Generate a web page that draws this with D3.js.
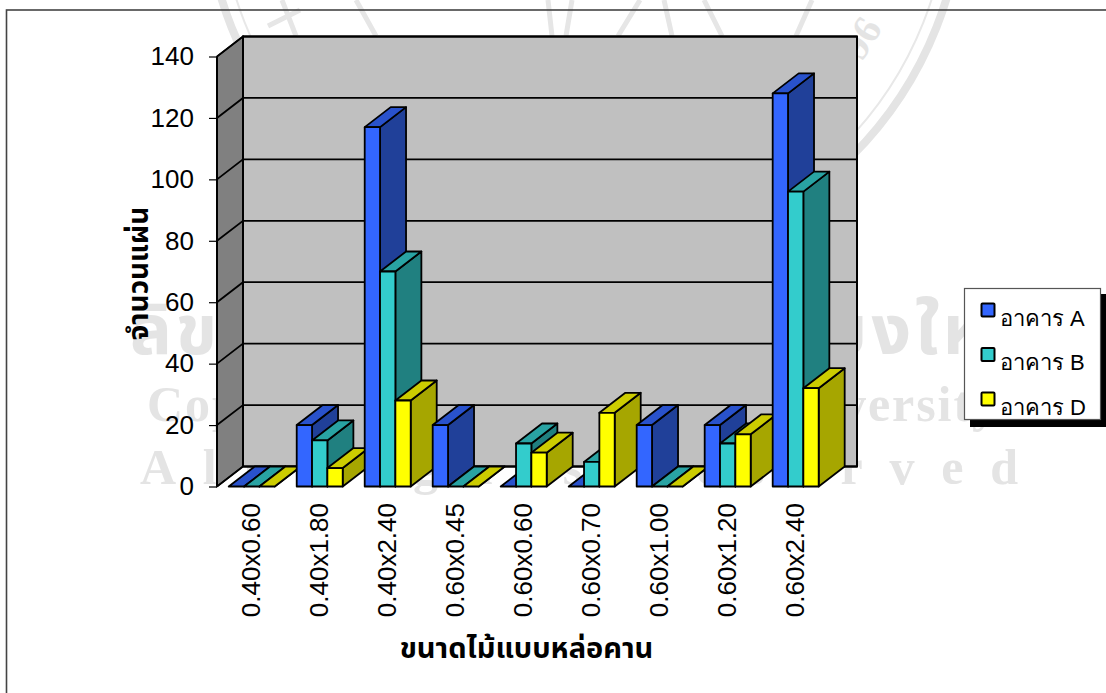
<!DOCTYPE html>
<html>
<head>
<meta charset="utf-8">
<script src="https://cdn.jsdelivr.net/npm/d3@7"></script>
<style>
  html, body { margin: 0; padding: 0; background: #fff; }
  svg { display: block; }
  text { font-family: "Liberation Sans", Arial, sans-serif; fill: #000; }
  .thai { font-family: "Liberation Serif", "Noto Sans Thai", "DejaVu Serif", serif; font-weight: bold; }
  .mark { font-family: "Liberation Serif", "Noto Sans Thai", serif; font-weight: bold; fill: #e4e4e4; }
</style>
</head>
<body>
<svg width="1106" height="693"></svg>
<script>
// ค่าที่อ่านจากกราฟ
const categories = ["0.40x0.60", "0.40x1.80", "0.40x2.40", "0.60x0.45", "0.60x0.60", "0.60x0.70", "0.60x1.00", "0.60x1.20", "0.60x2.40"];
const seriesNames = ["อาคาร A", "อาคาร B", "อาคาร D"];
const buildingA = [0, 20, 117, 20, 0, 0, 20, 20, 128];
const buildingB = [0, 15, 70, 0, 14, 8, 0, 14, 96];
const buildingD = [0, 6, 28, 0, 11, 24, 0, 17, 32];
const yTicks = [0, 20, 40, 60, 80, 100, 120, 140];
const frontColors = ["#3366ff", "#33cccc", "#ffff00"];
const sideColors = ["#204099", "#208080", "#a6a600"];
const topColors = ["#2952cc", "#29a3a3", "#cccc00"];

const svg = d3.select("svg");
const allSeries = [buildingA, buildingB, buildingD];

// глубина 3D
const depthX = 26;
const depthY = -20;

const x = d3.scaleBand().domain(categories).range([217.7, 829.7]).paddingInner(0.3235).paddingOuter(0.162);
const xInner = d3.scaleBand().domain(d3.range(3)).range([0, x.bandwidth()]);
const y = d3.scaleLinear().domain([0, 140]).range([486.5, 56.5]);

const poly = pts => pts.map(p => p.join(",")).join(" ");

// водяной знак за графиком
const wm = svg.append("g");
const ringX = 584, ringY = -112;
wm.append("circle").attr("cx", ringX).attr("cy", ringY).attr("r", 379)
    .attr("fill", "none").attr("stroke", "#e4e4e4").attr("stroke-width", 8);
wm.append("circle").attr("cx", ringX).attr("cy", ringY).attr("r", 365)
    .attr("fill", "none").attr("stroke", "#e8e8e8").attr("stroke-width", 2);
// штрихи герба у верхнего края
wm.append("path")
    .attr("d", "M282 0L296 36M300 10L268 26M356 0L376 36M548 0L552 36M572 0L566 36M640 0L618 36M664 0L672 36M704 0L722 36M812 0L796 36")
    .attr("fill", "none").attr("stroke", "#e6e6e6").attr("stroke-width", 5);
wm.append("text").attr("class", "mark")
    .attr("transform", "translate(862,62) rotate(-58)")
    .attr("font-size", 40).attr("font-weight", "normal")
    .text("96");
wm.append("text").attr("class", "mark").attr("x", 130).attr("y", 354)
    .attr("font-size", 70).attr("textLength", 905).attr("lengthAdjust", "spacing")
    .text("ลิขสิทธิ์มหาวิทยาลัยเชียงใหม่");
wm.append("text").attr("class", "mark").attr("x", 147).attr("y", 421)
    .attr("font-size", 50).attr("textLength", 850)
    .text("Copyright by Chiang Mai University");
wm.append("text").attr("class", "mark").attr("x", 140).attr("y", 484)
    .attr("font-size", 50).attr("textLength", 878)
    .text("All rights reserved");

// рамка
svg.append("rect").attr("x", 6.5).attr("y", 10).attr("width", 1200).attr("height", 800)
    .attr("fill", "none").attr("stroke", "#444").attr("stroke-width", 1.6);

// стенки
const plot = svg.append("g");
const left = 217, right = 831;
plot.append("polygon")
    .attr("points", poly([[left, y(140)], [left + depthX, y(140) + depthY], [left + depthX, y(0) + depthY], [left, y(0)]]))
    .attr("fill", "#808080").attr("stroke", "#000").attr("stroke-width", 1.5);
plot.append("rect")
    .attr("x", left + depthX).attr("y", y(140) + depthY)
    .attr("width", right - left).attr("height", y(0) - y(140))
    .attr("fill", "#c0c0c0").attr("stroke", "#000").attr("stroke-width", 2);

// линии сетки
yTicks.forEach(t => {
    plot.append("polyline")
        .attr("points", poly([[left, y(t)], [left + depthX, y(t) + depthY], [right + depthX, y(t) + depthY]]))
        .attr("fill", "none").attr("stroke", "#000").attr("stroke-width", 1.8);
});

// ось Y
const yAxis = d3.axisLeft(y).tickValues(yTicks).tickSize(8).tickPadding(15);
const yG = svg.append("g").attr("transform", `translate(${left},0)`).call(yAxis);
yG.select(".domain").remove();
yG.selectAll("line").attr("stroke", "#000").attr("stroke-width", 1.2);
yG.selectAll("text").attr("font-size", 26).attr("font-family", "Liberation Sans");
svg.append("line").attr("x1", left).attr("x2", left).attr("y1", y(140)).attr("y2", y(0))
    .attr("stroke", "#000").attr("stroke-width", 2);

// столбцы слева направо, внутри группы от первой серии к последней
const bars = svg.append("g").attr("stroke", "#000").attr("stroke-width", 1.8).attr("stroke-linejoin", "round");
categories.forEach((c, i) => {
    allSeries.forEach((s, k) => {
        const x0 = x(c) + xInner(k);
        const x1 = x0 + xInner.bandwidth();
        const yTop = y(s[i]);
        const yBase = y(0);
        bars.append("polygon")
            .attr("points", poly([[x1, yTop], [x1 + depthX, yTop + depthY], [x1 + depthX, yBase + depthY], [x1, yBase]]))
            .attr("fill", sideColors[k]);
        bars.append("polygon")
            .attr("points", poly([[x0, yTop], [x0 + depthX, yTop + depthY], [x1 + depthX, yTop + depthY], [x1, yTop]]))
            .attr("fill", topColors[k]);
        if (s[i] > 0) {
            bars.append("rect")
                .attr("x", x0).attr("y", yTop)
                .attr("width", x1 - x0).attr("height", yBase - yTop)
                .attr("fill", frontColors[k]);
        }
    });
});

// подписи категорий
svg.append("g").selectAll("text").data(categories).join("text")
    .attr("transform", d => `translate(${x(d) + x.bandwidth() / 2 - 1},503) rotate(-90)`)
    .attr("text-anchor", "end")
    .attr("dy", "0.36em")
    .attr("font-size", 26)
    .text(d => d);

// заголовки осей
svg.append("text").attr("class", "thai")
    .attr("x", 526.5).attr("y", 658).attr("text-anchor", "middle")
    .attr("font-size", 29)
    .text("ขนาดไม้แบบหล่อคาน");
svg.append("text").attr("class", "thai")
    .attr("transform", "translate(148,273.5) rotate(-90)").attr("text-anchor", "middle")
    .attr("font-size", 28)
    .text("จำนวนแผ่น");

// легенда
const legend = svg.append("g");
legend.append("rect").attr("x", 970).attr("y", 294).attr("width", 140).attr("height", 133).attr("fill", "#000");
legend.append("rect").attr("x", 964.5).attr("y", 288.5).attr("width", 136).attr("height", 131)
    .attr("fill", "#fff").attr("stroke", "#555").attr("stroke-width", 1.2);
const legendRows = legend.selectAll("g").data(seriesNames).join("g")
    .attr("transform", (d, i) => `translate(0,${44.5 * i})`);
legendRows.append("rect")
    .attr("x", 981.5).attr("y", 303.5).attr("width", 13).attr("height", 13).attr("rx", 1)
    .attr("fill", (d, i) => frontColors[i]).attr("stroke", "#000").attr("stroke-width", 2);
legendRows.append("text")
    .attr("x", 1000).attr("y", 325.5).attr("font-size", 22)
    .text(d => d);
</script>
</body>
</html>
